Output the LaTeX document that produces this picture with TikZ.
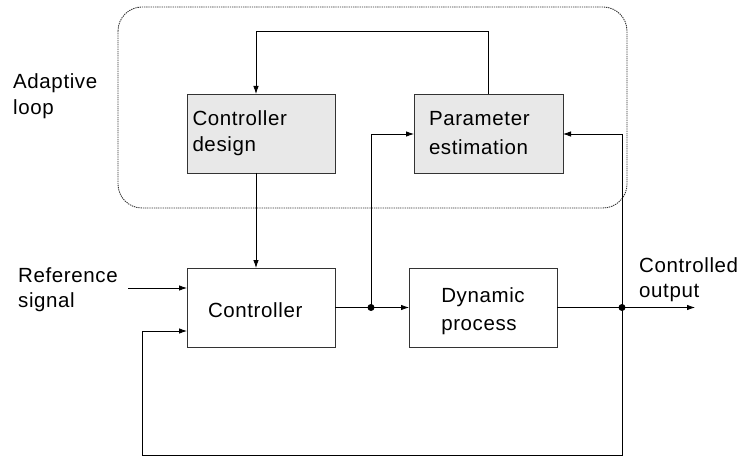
\documentclass[tikz,border=0pt]{standalone}
\usepackage{fontspec}
\setmainfont{Liberation Sans}[LetterSpace=3]
\usetikzlibrary{arrows.meta,calc}
\begin{document}
\begin{tikzpicture}[x=1pt,y=-1pt,
  every node/.style={font=\fontsize{20.5}{25}\selectfont},
  box/.style={draw=black!80, line width=0.9pt, minimum height=79pt, inner sep=0pt, outer sep=0pt},
  shadedbox/.style={box, fill=black!9},
  conn/.style={line width=0.8pt, black},
  arr/.style={conn, -{Latex[length=8pt,width=5.5pt]}},
  jdot/.style={circle, fill=black, inner sep=0pt, minimum size=7pt},
  lbl/.style={align=left, inner sep=0pt, anchor=base west},
  frame/.style={black!80, dash pattern=on 1.3pt off 0.9pt, line width=0.9pt, rounded corners=24pt}]
\useasboundingbox (0,0) rectangle (744,457);
% adaptive loop frame
\draw[frame] (118,7) rectangle (627,208);
% blocks
\node[shadedbox, minimum width=148pt, text width=137pt, align=left] (cd) at (261,133.5) {Controller\\[1pt]design};
\node[shadedbox, minimum width=149pt, text width=119pt, align=left] (pe) at (488.5,133.5) {Parameter\\[4pt]estimation};
\node[box, minimum width=148pt, text width=134pt, align=left, text height=20pt, text depth=0pt] (c) at (261,307.5) {\hspace*{14pt}Controller};
\node[box, minimum width=148pt, align=left] (dp) at (483,307.5) {\rule{0pt}{22pt}Dynamic\\[3pt]process};
% labels
\node[lbl] (al) at (13,115) {Adaptive\\[1pt]loop};
\node[lbl] (rs) at (18,307) {Reference\\signal};
\node[lbl] (co) at (639,297) {Controlled\\output};
% coordinates
\coordinate (top) at (256,31);
\coordinate (j1) at (371,307.5);
\coordinate (j2) at (622,307.5);
\coordinate (out) at (695,307.5);
\coordinate (rin) at (128,288);
\coordinate (pin) at (0,134);
\coordinate (fb) at (142,455);
\coordinate (fbin) at (0,331);
% connectors
\draw[arr] (pe.north) |- (top) -- (cd.north -| top);
\draw[arr] (cd.south -| top) -- (c.north -| top);
\draw[arr] (rin) -- (c.west |- rin);
\draw[conn] (c.east |- j1) -- (j1);
\draw[arr] (j1) -- (dp.west |- j1);
\draw[arr] (j1) |- (pe.west |- pin);
\draw[conn] (dp.east |- j2) -- (j2);
\draw[arr] (j2) -- (out);
\draw[arr] (j2) |- (pe.east |- pin);
\draw[arr] (j2) -- (j2 |- fb) -- (fb) -- (fb |- fbin) -- (c.west |- fbin);
\node[jdot] (d1) at (j1) {};
\node[jdot] (d2) at (j2) {};
\end{tikzpicture}
\end{document}
